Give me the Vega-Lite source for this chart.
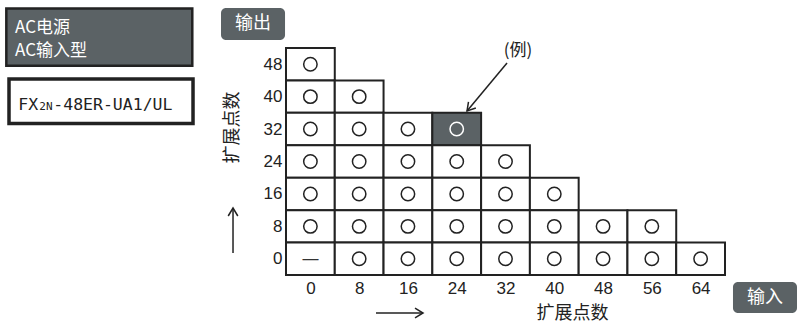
{
  "$schema": "https://vega.github.io/schema/vega-lite/v6.json",
  "width": 439,
  "height": 227,
  "autosize": {"type": "none"},
  "padding": {"left": 286, "top": 48, "right": 73, "bottom": 48},
  "background": "white",
  "config": {
    "view": {"stroke": null},
    "axis": {
      "grid": false,
      "domain": false,
      "ticks": false,
      "labelFont": "Liberation Sans",
      "labelFontSize": 17,
      "labelColor": "#222222",
      "labelFlush": false,
      "labelOverlap": false,
      "titleFont": "Noto Sans CJK SC",
      "titleFontSize": 18,
      "titleFontWeight": "normal",
      "titleColor": "#222222"
    },
    "axisY": {"labelOverlap": false},
    "axisLeft": {"labelOverlap": false},
    "axisQuantitative": {"labelOverlap": false, "tickCount": 20}
  },
  "datasets": {
    "cells": [
      {"x": 0, "y": 48, "sym": "○", "highlight": false},
      {"x": 0, "y": 40, "sym": "○", "highlight": false},
      {"x": 8, "y": 40, "sym": "○", "highlight": false},
      {"x": 0, "y": 32, "sym": "○", "highlight": false},
      {"x": 8, "y": 32, "sym": "○", "highlight": false},
      {"x": 16, "y": 32, "sym": "○", "highlight": false},
      {"x": 24, "y": 32, "sym": "○", "highlight": true},
      {"x": 0, "y": 24, "sym": "○", "highlight": false},
      {"x": 8, "y": 24, "sym": "○", "highlight": false},
      {"x": 16, "y": 24, "sym": "○", "highlight": false},
      {"x": 24, "y": 24, "sym": "○", "highlight": false},
      {"x": 32, "y": 24, "sym": "○", "highlight": false},
      {"x": 0, "y": 16, "sym": "○", "highlight": false},
      {"x": 8, "y": 16, "sym": "○", "highlight": false},
      {"x": 16, "y": 16, "sym": "○", "highlight": false},
      {"x": 24, "y": 16, "sym": "○", "highlight": false},
      {"x": 32, "y": 16, "sym": "○", "highlight": false},
      {"x": 40, "y": 16, "sym": "○", "highlight": false},
      {"x": 0, "y": 8, "sym": "○", "highlight": false},
      {"x": 8, "y": 8, "sym": "○", "highlight": false},
      {"x": 16, "y": 8, "sym": "○", "highlight": false},
      {"x": 24, "y": 8, "sym": "○", "highlight": false},
      {"x": 32, "y": 8, "sym": "○", "highlight": false},
      {"x": 40, "y": 8, "sym": "○", "highlight": false},
      {"x": 48, "y": 8, "sym": "○", "highlight": false},
      {"x": 56, "y": 8, "sym": "○", "highlight": false},
      {"x": 0, "y": 0, "sym": "—", "highlight": false},
      {"x": 8, "y": 0, "sym": "○", "highlight": false},
      {"x": 16, "y": 0, "sym": "○", "highlight": false},
      {"x": 24, "y": 0, "sym": "○", "highlight": false},
      {"x": 32, "y": 0, "sym": "○", "highlight": false},
      {"x": 40, "y": 0, "sym": "○", "highlight": false},
      {"x": 48, "y": 0, "sym": "○", "highlight": false},
      {"x": 56, "y": 0, "sym": "○", "highlight": false},
      {"x": 64, "y": 0, "sym": "○", "highlight": false}
    ]
  },
  "layer": [
    {
      "data": {"name": "cells"},
      "mark": {"type": "rect", "width": 48.78, "height": 32.43, "stroke": "#222222", "strokeWidth": 2},
      "encoding": {
        "x": {
          "field": "x", "type": "quantitative",
          "scale": {"domain": [-4, 68], "nice": false, "zero": false},
          "axis": {"values": [0, 8, 16, 24, 32, 40, 48, 56, 64], "tickCount": 20, "labelPadding": 5, "labelAngle": 0,
                   "labelFont": "Liberation Sans", "labelFontSize": 17, "labelOverlap": false, "labelFlush": false,
                   "title": "扩展点数", "titleX": 286, "titleY": 38, "titleAlign": "center", "titleBaseline": "middle"}
        },
        "y": {
          "field": "y", "type": "quantitative",
          "scale": {"domain": [-4, 52], "nice": false, "zero": false},
          "axis": {"values": [0, 8, 16, 24, 32, 40, 48], "tickCount": 20, "labelPadding": 4,
                   "labelFont": "Liberation Sans", "labelFontSize": 17, "labelOverlap": false, "labelFlush": false,
                   "title": "扩展点数", "titleX": -54, "titleY": 79, "titleAngle": 270, "titleAlign": "center", "titleBaseline": "middle"}
        },
        "fill": {"condition": {"test": "datum.highlight", "value": "#5b6265"}, "value": "#ffffff"}
      }
    },
    {
      "data": {"name": "cells"},
      "transform": [{"filter": "datum.sym === '○'"}],
      "mark": {"type": "point", "shape": "circle", "size": 180, "filled": false, "strokeWidth": 1.5, "opacity": 1},
      "encoding": {
        "x": {"field": "x", "type": "quantitative"},
        "y": {"field": "y", "type": "quantitative"},
        "stroke": {"condition": {"test": "datum.highlight", "value": "#ffffff"}, "value": "#222222"}
      }
    },
    {
      "data": {"name": "cells"},
      "transform": [{"filter": "datum.sym === '—'"}],
      "mark": {"type": "text", "font": "Liberation Sans", "fontSize": 16, "color": "#333333"},
      "encoding": {
        "x": {"field": "x", "type": "quantitative"},
        "y": {"field": "y", "type": "quantitative"},
        "text": {"field": "sym"}
      }
    },
    {
      "data": {"values": [{}]},
      "mark": {"type": "rect", "fill": "#5b6265", "stroke": "#222222", "strokeWidth": 2.5, "clip": false},
      "encoding": {
        "x": {"datum": -49.87, "type": "quantitative"}, "x2": {"datum": -19.37},
        "y": {"datum": 61.74, "type": "quantitative"}, "y2": {"datum": 47.63}
      }
    },
    {
      "data": {"values": [{}]},
      "mark": {"type": "text", "text": "AC电源", "font": "Noto Sans CJK SC", "fontSize": 17, "color": "#ffffff", "align": "left", "baseline": "alphabetic", "clip": false},
      "encoding": {"x": {"datum": -48.45, "type": "quantitative"}, "y": {"datum": 55.7, "type": "quantitative"}}
    },
    {
      "data": {"values": [{}]},
      "mark": {"type": "text", "text": "AC输入型", "font": "Noto Sans CJK SC", "fontSize": 17, "color": "#ffffff", "align": "left", "baseline": "alphabetic", "clip": false},
      "encoding": {"x": {"datum": -48.45, "type": "quantitative"}, "y": {"datum": 50.03, "type": "quantitative"}}
    },
    {
      "data": {"values": [{}]},
      "mark": {"type": "rect", "fill": "#ffffff", "stroke": "#222222", "strokeWidth": 3.5, "clip": false},
      "encoding": {
        "x": {"datum": -49.43, "type": "quantitative"}, "x2": {"datum": -19.25},
        "y": {"datum": 44.35, "type": "quantitative"}, "y2": {"datum": 33.37}
      }
    },
    {
      "data": {"values": [{}]},
      "mark": {"type": "text", "text": "FX", "font": "DejaVu Sans Mono", "fontSize": 16.5, "color": "#222222", "align": "left", "baseline": "alphabetic", "clip": false},
      "encoding": {"x": {"datum": -47.91, "type": "quantitative"}, "y": {"datum": 36.7, "type": "quantitative"}}
    },
    {
      "data": {"values": [{}]},
      "mark": {"type": "text", "text": "2N", "font": "DejaVu Sans Mono", "fontSize": 11, "color": "#222222", "align": "left", "baseline": "alphabetic", "clip": false},
      "encoding": {"x": {"datum": -44.46, "type": "quantitative"}, "y": {"datum": 36.7, "type": "quantitative"}}
    },
    {
      "data": {"values": [{}]},
      "mark": {"type": "text", "text": "-48ER-UA1/UL", "font": "DejaVu Sans Mono", "fontSize": 16.5, "color": "#222222", "align": "left", "baseline": "alphabetic", "clip": false},
      "encoding": {"x": {"datum": -42.17, "type": "quantitative"}, "y": {"datum": 36.7, "type": "quantitative"}}
    },
    {
      "data": {"values": [{}]},
      "mark": {"type": "rect", "fill": "#5b6265", "cornerRadius": 5, "clip": false},
      "encoding": {
        "x": {"datum": -14.66, "type": "quantitative"}, "x2": {"datum": -4.16},
        "y": {"datum": 61.87, "type": "quantitative"}, "y2": {"datum": 53.97}
      }
    },
    {
      "data": {"values": [{}]},
      "mark": {"type": "text", "text": "输出", "font": "Noto Sans CJK SC", "fontSize": 18, "color": "#ffffff", "align": "center", "baseline": "middle", "clip": false},
      "encoding": {"x": {"datum": -9.41, "type": "quantitative"}, "y": {"datum": 57.92, "type": "quantitative"}}
    },
    {
      "data": {"values": [{}]},
      "mark": {"type": "rect", "fill": "#5b6265", "cornerRadius": 5, "clip": false},
      "encoding": {
        "x": {"datum": 69.31, "type": "quantitative"}, "x2": {"datum": 79.81},
        "y": {"datum": -5.73, "type": "quantitative"}, "y2": {"datum": -13.37}
      }
    },
    {
      "data": {"values": [{}]},
      "mark": {"type": "text", "text": "输入", "font": "Noto Sans CJK SC", "fontSize": 18, "color": "#ffffff", "align": "center", "baseline": "middle", "clip": false},
      "encoding": {"x": {"datum": 74.56, "type": "quantitative"}, "y": {"datum": -9.67, "type": "quantitative"}}
    },
    {
      "data": {"values": [{}]},
      "mark": {"type": "text", "text": "(例)", "font": "Noto Sans CJK SC", "fontSize": 17, "color": "#222222", "align": "center", "baseline": "middle", "clip": false},
      "encoding": {"x": {"datum": 34.05, "type": "quantitative"}, "y": {"datum": 51.38, "type": "quantitative"}}
    },
    {
      "data": {"values": [{}]},
      "mark": {"type": "rule", "color": "#222222", "strokeWidth": 1.5, "clip": false},
      "encoding": {
        "x": {"datum": 32.25, "type": "quantitative"}, "x2": {"datum": 25.69},
        "y": {"datum": 48.3, "type": "quantitative"}, "y2": {"datum": 36.46}
      }
    },
    {
      "data": {"values": [{}]},
      "mark": {"type": "point", "shape": "M-0.6,1L0,0L0.6,1", "size": 256, "angle": 220, "filled": false, "stroke": "#222222", "strokeWidth": 1.5, "opacity": 1, "clip": false},
      "encoding": {"x": {"datum": 25.69, "type": "quantitative"}, "y": {"datum": 36.46, "type": "quantitative"}}
    },
    {
      "data": {"values": [{}]},
      "mark": {"type": "rule", "color": "#222222", "strokeWidth": 1.5, "clip": false},
      "encoding": {
        "x": {"datum": -12.69, "type": "quantitative"},
        "y": {"datum": 1.43, "type": "quantitative"}, "y2": {"datum": 12.53}
      }
    },
    {
      "data": {"values": [{}]},
      "mark": {"type": "point", "shape": "M-0.6,1L0,0L0.6,1", "size": 256, "angle": 0, "filled": false, "stroke": "#222222", "strokeWidth": 1.5, "opacity": 1, "clip": false},
      "encoding": {"x": {"datum": -12.69, "type": "quantitative"}, "y": {"datum": 12.53, "type": "quantitative"}}
    },
    {
      "data": {"values": [{}]},
      "mark": {"type": "rule", "color": "#222222", "strokeWidth": 1.5, "clip": false},
      "encoding": {
        "x": {"datum": 10.76, "type": "quantitative"}, "x2": {"datum": 18.47},
        "y": {"datum": -13.37, "type": "quantitative"}
      }
    },
    {
      "data": {"values": [{}]},
      "mark": {"type": "point", "shape": "M-0.6,1L0,0L0.6,1", "size": 256, "angle": 90, "filled": false, "stroke": "#222222", "strokeWidth": 1.5, "opacity": 1, "clip": false},
      "encoding": {"x": {"datum": 18.47, "type": "quantitative"}, "y": {"datum": -13.37, "type": "quantitative"}}
    }
  ]
}
